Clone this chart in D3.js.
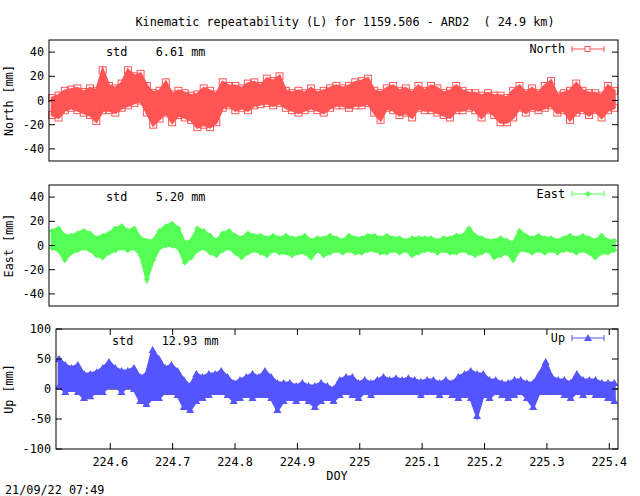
<!DOCTYPE html>
<html><head><meta charset="utf-8">
<script src="https://cdn.jsdelivr.net/npm/d3@7"></script>
<style>body{margin:0;background:#fff}text{font-family:"DejaVu Sans Mono",monospace;font-size:11.8px}</style>
</head><body>
<script>
// bins of 0.01 DOY starting at 224.513, [lo, hi] in mm
var binStart = 224.513, binWidth = 0.01;
var northLo = [-12,-14,-8,-6,-8,-10,-12,-17,-8,-8,-10,-6,-4,-2,0,-10,-20,-15,-10,-18,-12,-14,-16,-22,-20,-22,-18,-6,-4,-8,-6,-8,-4,-3,-2,-4,-2,-6,-8,-10,-8,-6,-8,-10,-6,-4,-4,-6,-4,-4,-2,-10,-16,-6,-8,-12,-10,-14,-6,-8,-8,-10,-12,-14,-8,-8,-6,-8,-14,-8,-12,-18,-18,-14,-6,-10,-6,-8,-6,-4,-10,-8,-16,-10,-8,-12,-8,-14,-8,-6];
var northHi = [2,4,8,9,10,7,10,8,25,12,10,14,25,20,22,12,6,8,15,5,8,6,4,5,10,8,5,15,12,12,10,14,15,12,18,16,20,8,6,8,6,10,6,8,10,12,10,12,15,16,18,8,6,10,12,8,10,6,12,8,12,10,6,8,12,8,6,6,4,6,4,4,2,8,12,6,10,6,12,16,4,6,8,14,8,6,6,4,12,8];
var eastLo = [-2,-4,-12,-6,-4,-2,-4,-8,-10,-6,-4,-2,-4,-2,-8,-28,-12,-2,0,0,-2,-14,-10,-4,-2,-6,-8,-4,-2,-6,-10,-6,-4,-6,-8,-4,-6,-6,-8,-6,-6,-10,-4,-8,-6,-4,-6,-4,-6,-6,-4,-4,-6,-6,-4,-6,-4,-8,-6,-4,-4,-6,-4,-6,-6,-4,-6,-8,-6,-4,-10,-8,-6,-12,-4,-4,-6,-4,-6,-4,-6,-4,-4,-6,-4,-6,-10,-6,-6,-4];
var eastHi = [12,14,8,8,10,12,10,6,8,10,14,16,12,14,6,4,4,12,16,18,14,2,4,14,12,8,4,10,12,8,6,10,8,8,6,8,6,8,6,6,8,4,6,6,8,6,4,8,6,6,8,8,6,8,6,6,4,6,6,6,6,4,6,6,8,8,14,8,6,4,4,6,4,2,12,8,6,8,6,6,4,6,8,6,8,6,4,8,4,4];
var upLo = [5,-5,0,-5,-15,-12,-5,-5,5,5,-5,5,0,-20,-25,-15,-15,-5,-5,-10,-30,-35,-20,-15,-10,-5,-5,-10,-20,-15,-10,-15,-10,-10,-15,-35,-20,-15,-20,-15,-20,-30,-20,-15,-20,-10,-5,-10,-15,-5,-10,-5,-5,-5,-5,-5,-5,-5,-10,-5,-5,-10,-5,-10,-15,-10,-15,-45,-10,-15,-5,-10,-15,-10,-5,-15,-30,-5,-5,-5,-5,-10,-15,-5,-10,-5,-10,-10,-15,-20];
var upHi = [50,40,35,40,25,25,28,35,45,35,30,30,35,20,25,65,50,35,40,30,15,5,25,20,25,25,30,20,10,15,20,25,20,30,20,10,10,10,5,10,5,5,10,5,0,15,20,20,10,15,10,15,20,15,18,15,18,15,12,15,15,10,15,10,20,25,30,25,25,15,15,10,10,15,15,10,10,25,45,20,15,15,10,25,15,15,15,10,10,10];
var xTicks = [224.6,224.7,224.8,224.9,225,225.1,225.2,225.3,225.4];

var panels = [
  {name:"North", lo:northLo, hi:northHi, color:"#ff5555", std:"6.61", top:40, bot:161, left:49, dom:[-50,50], ticks:[-40,-20,0,20,40], marker:"square", xlab:false},
  {name:"East", lo:eastLo, hi:eastHi, color:"#55ff55", std:"5.20", top:185, bot:306, left:49, dom:[-50,50], ticks:[-40,-20,0,20,40], marker:"diamond", xlab:false},
  {name:"Up", lo:upLo, hi:upHi, color:"#5555ff", std:"12.93", top:329, bot:449, left:56, dom:[-100,100], ticks:[-100,-50,0,50,100], marker:"triangle", xlab:true}
];
var right = 618;

var svg = d3.select("body").append("svg").attr("width",640).attr("height",496);

svg.append("text").attr("x",345).attr("y",26).attr("text-anchor","middle").attr("xml:space","preserve")
  .text("Kinematic repeatability (L) for 1159.506 - ARD2  ( 24.9 km)");

function drawMarker(g, type, x, y, color){
  if (type === "square") {
    g.append("rect").attr("x",x-3.5).attr("y",y-3.5).attr("width",7).attr("height",7)
      .attr("fill","none").attr("stroke",color);
  } else if (type === "diamond") {
    g.append("path").attr("d","M"+x+","+(y-3)+"l3,3l-3,3l-3,-3z").attr("fill",color);
  } else {
    g.append("path").attr("d","M"+x+","+(y-4)+"l4,7h-8z").attr("fill",color);
  }
}

panels.forEach(function(p){
  var x = d3.scaleLinear().domain([224.513,225.414]).range([p.left,right]);
  var y = d3.scaleLinear().domain(p.dom).range([p.bot,p.top]);
  var g = svg.append("g");
  var cx = function(i){ return x(binStart + (i+0.5)*binWidth); };

  g.append("line").attr("x1",p.left).attr("x2",right).attr("y1",y(0)).attr("y2",y(0)).attr("stroke","#000");

  var area = d3.area().x(function(d,i){ return cx(i); })
    .y0(function(d,i){ return y(p.lo[i]); }).y1(function(d,i){ return y(p.hi[i]); });
  g.append("path").attr("d",area(p.lo)).attr("fill",p.color).attr("stroke",p.color).attr("stroke-width",3);

  p.lo.forEach(function(lo,i){
    drawMarker(g,p.marker,cx(i),y(lo),p.color);
    drawMarker(g,p.marker,cx(i),y(p.hi[i]),p.color);
  });

  // frame and ticks
  g.append("rect").attr("x",p.left).attr("y",p.top).attr("width",right-p.left).attr("height",p.bot-p.top)
    .attr("fill","none").attr("stroke","#000");
  p.ticks.forEach(function(t){
    g.append("line").attr("x1",p.left).attr("x2",p.left+6).attr("y1",y(t)).attr("y2",y(t)).attr("stroke","#000");
    g.append("line").attr("x1",right-6).attr("x2",right).attr("y1",y(t)).attr("y2",y(t)).attr("stroke","#000");
    g.append("text").attr("x",p.left-5).attr("y",y(t)+4).attr("text-anchor","end").text(t);
  });
  if (p.xlab) {
    xTicks.forEach(function(t){
      g.append("line").attr("x1",x(t)).attr("x2",x(t)).attr("y1",p.bot).attr("y2",p.bot-6).attr("stroke","#000");
      g.append("line").attr("x1",x(t)).attr("x2",x(t)).attr("y1",p.top).attr("y2",p.top+6).attr("stroke","#000");
      g.append("text").attr("x",x(t)).attr("y",p.bot+17).attr("text-anchor","middle").text(d3.format("")(t));
    });
  }
  g.append("text").attr("transform","translate(13,"+((p.top+p.bot)/2)+") rotate(-90)")
    .attr("text-anchor","middle").text(p.name+" [mm]");
  g.append("text").attr("x",p.xlab?112:106).attr("y",p.top+16).attr("xml:space","preserve").text("std    "+p.std+" mm");

  // legend
  g.append("text").attr("x",565).attr("y",p.top+13).attr("text-anchor","end").text(p.name);
  var ly = p.top+9;
  g.append("line").attr("x1",572).attr("x2",604).attr("y1",ly).attr("y2",ly).attr("stroke",p.color);
  g.append("line").attr("x1",572).attr("x2",572).attr("y1",ly-3).attr("y2",ly+3).attr("stroke",p.color);
  g.append("line").attr("x1",604).attr("x2",604).attr("y1",ly-3).attr("y2",ly+3).attr("stroke",p.color);
  if (p.marker === "square") {
    g.append("rect").attr("x",585).attr("y",ly-2.5).attr("width",5).attr("height",5).attr("fill","#fff").attr("stroke",p.color);
  } else drawMarker(g,p.marker,588,ly,p.color);
});

svg.append("text").attr("x",337).attr("y",480).attr("text-anchor","middle").text("DOY");
svg.append("text").attr("x",5).attr("y",494).text("21/09/22 07:49");
</script>
</body></html>
